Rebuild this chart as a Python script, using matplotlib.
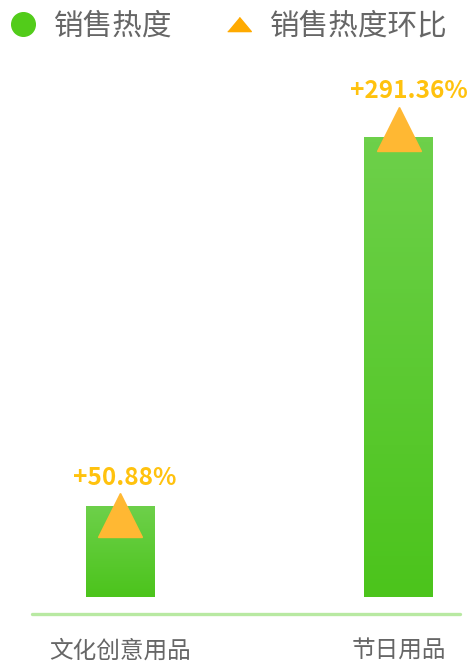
import numpy as np
import matplotlib
matplotlib.use('Agg')
import matplotlib.pyplot as plt
from matplotlib.lines import Line2D
from matplotlib.colors import LinearSegmentedColormap

plt.rcParams['font.family'] = ['Noto Sans CJK SC', 'DejaVu Sans']

# data
categories = ['文化创意用品', '节日用品']
heat = [20, 101]            # 销售热度
ratio = [50.88, 291.36]     # 销售热度环比 (%)
series_names = ['销售热度', '销售热度环比']

W, H = 467, 663
fig = plt.figure(figsize=(W / 100, H / 100), dpi=100)

# axes: baseline at y=597px, top at y=40px, x from 32 to 460px
ax = fig.add_axes([32 / W, 66 / H, 428 / W, 557 / H])
ax2 = ax.twinx()

x = np.arange(len(categories))
bars = ax.bar(x, heat, width=0.248, color='#5ccb30', zorder=2)

# vertical gradient on bars
cmap = LinearSegmentedColormap.from_list('g', ['#4cc41c', '#6dd04a'])
grad = np.linspace(0, 1, 100).reshape(-1, 1)
for b in bars:
    x0, w, h = b.get_x(), b.get_width(), b.get_height()
    im = ax.imshow(grad, extent=[x0, x0 + w, 0, h], origin='lower',
                   cmap=cmap, aspect='auto', zorder=3)
    im.set_clip_path(b)

ax.set_xlim(-0.318, 1.221)
ax.set_ylim(0, 557 / 4.55)
ax2.set_ylim(0, 557 / 1.607)

# ratio markers and labels
ax2.plot(x, ratio, linestyle='none', marker='^', markersize=31,
         color='#ffb833', zorder=4)
for xi, r, dx in zip(x, ratio, [3, 7.5]):
    ax2.annotate('+%.2f%%' % r, (xi, r), xytext=(dx, 27), textcoords='offset points',
                 ha='center', va='center', fontsize=17.5, fontweight='bold',
                 color='#ffc20e')

for a in (ax, ax2):
    for s in a.spines.values():
        s.set_visible(False)
    a.set_yticks([])
ax.set_xticks([])

# category labels
for xi, c in zip(x, categories):
    ax.annotate(c, (xi, 0), xytext=(0, -39), textcoords='offset points',
                ha='center', va='center', fontsize=17, color='#666666')

# axis line
fig.add_artist(Line2D([32 / W, 460 / W], [(H - 614) / H] * 2, color='#b8e9a2',
                      linewidth=2.4, solid_capstyle='round'))

# legend
handles = [
    Line2D([], [], linestyle='none', marker='o', markersize=17, color='#52cc1a'),
    Line2D([], [], linestyle='none', marker=[(-1, -0.6), (1, -0.6), (0, 0.6)],
           markersize=17, color='#ffaa00'),
]
fig.legend(handles, series_names, loc='center left', bbox_to_anchor=(0.005, 1 - 26 / H),
           ncol=2, frameon=False, fontsize=21.3, labelcolor='#666666',
           handletextpad=0.35, columnspacing=1.55, handlelength=1.4,
           borderaxespad=0, borderpad=0)

fig.savefig('out.png', dpi=100)
